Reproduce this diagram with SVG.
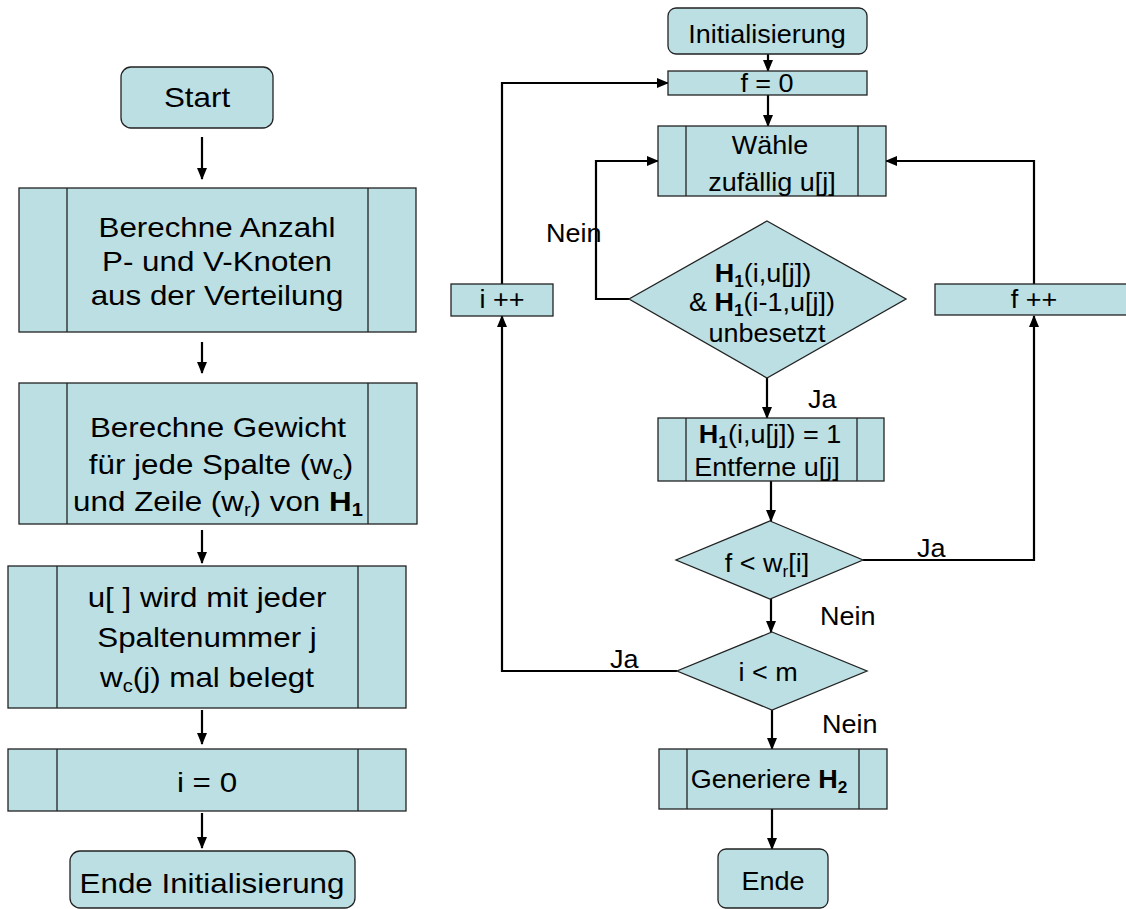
<svg xmlns="http://www.w3.org/2000/svg" width="1126" height="909" viewBox="0 0 1126 909">
<style>
.n{fill:#BBDFE3;stroke:#222;stroke-width:1.3}
.c{fill:none;stroke:#000;stroke-width:2.2}
.ca{fill:none;stroke:#000;stroke-width:2.2;marker-end:url(#ah)}
text{font-family:"Liberation Sans",Arial,sans-serif;fill:#000}
.L{font-size:28px;text-anchor:middle}
.R{font-size:25px;text-anchor:middle}
.Rl{font-size:25px}
.b{font-weight:bold}
</style>
<defs>
<marker id="ah" markerUnits="userSpaceOnUse" markerWidth="12" markerHeight="12" viewBox="0 0 12 12" refX="11" refY="6" orient="auto">
<path d="M0,1 L12,6 L0,11 Z" fill="#000"/>
</marker>
</defs>

<g id="connectors">
<path class="ca" d="M202,137 V179"/>
<path class="ca" d="M202,342 V373"/>
<path class="ca" d="M202,530 V563"/>
<path class="ca" d="M202,710 V744"/>
<path class="ca" d="M202,813 V848"/>
<path class="ca" d="M768,54 V71"/>
<path class="ca" d="M768,95 V126"/>
<path class="ca" d="M502,284 V83 H668"/>
<path class="ca" d="M629,299 H596 V161 H658"/>
<path class="ca" d="M1034,284 V161 H886"/>
<path class="ca" d="M767,378 V418"/>
<path class="ca" d="M771,481 V521"/>
<path class="ca" d="M863,560 H1034 V316"/>
<path class="ca" d="M771,599 V632"/>
<path class="ca" d="M677,671 H502 V316"/>
<path class="ca" d="M772,710 V749"/>
<path class="ca" d="M772,809 V849"/>
</g>

<g id="start">
<rect class="n" x="121" y="67" width="152" height="61" rx="10"/>
<text class="L" transform="translate(197,107) scale(1.12,1)">Start</text>
</g>

<g id="berechne-anzahl">
<rect class="n" x="19" y="188" width="397" height="144"/>
<line class="n" x1="67" y1="188" x2="67" y2="332"/>
<line class="n" x1="368" y1="188" x2="368" y2="332"/>
<text class="L" transform="translate(217,237) scale(1.12,1)">Berechne Anzahl</text>
<text class="L" transform="translate(217,271) scale(1.12,1)">P- und V-Knoten</text>
<text class="L" transform="translate(217,305) scale(1.12,1)">aus der Verteilung</text>
</g>

<g id="berechne-gewicht">
<rect class="n" x="19" y="383" width="398" height="141"/>
<line class="n" x1="67" y1="383" x2="67" y2="524"/>
<line class="n" x1="368" y1="383" x2="368" y2="524"/>
<text class="L" transform="translate(218,437) scale(1.12,1)">Berechne Gewicht</text>
<text class="L" transform="translate(221,474) scale(1.12,1)">für jede Spalte (w<tspan font-size="18" dy="5">c</tspan><tspan dy="-5">)</tspan></text>
<text class="L" transform="translate(218,511) scale(1.12,1)">und Zeile (w<tspan font-size="18" dy="5">r</tspan><tspan dy="-5">) von </tspan><tspan class="b">H</tspan><tspan class="b" font-size="18" dy="5">1</tspan></text>
</g>

<g id="u-belegen">
<rect class="n" x="8" y="566" width="398" height="142"/>
<line class="n" x1="57" y1="566" x2="57" y2="708"/>
<line class="n" x1="358" y1="566" x2="358" y2="708"/>
<text class="L" transform="translate(207,607) scale(1.12,1)">u[ ] wird mit jeder</text>
<text class="L" transform="translate(207,647) scale(1.12,1)">Spaltenummer j</text>
<text class="L" transform="translate(207,687) scale(1.12,1)">w<tspan font-size="18" dy="5">c</tspan><tspan dy="-5">(j) mal belegt</tspan></text>
</g>

<g id="i-null">
<rect class="n" x="8" y="749" width="398" height="62"/>
<line class="n" x1="57" y1="749" x2="57" y2="811"/>
<line class="n" x1="358" y1="749" x2="358" y2="811"/>
<text class="L" transform="translate(207,792) scale(1.12,1)">i = 0</text>
</g>

<g id="ende-initialisierung">
<rect class="n" x="70" y="851" width="285" height="57" rx="10"/>
<text class="L" transform="translate(212,893) scale(1.12,1)">Ende Initialisierung</text>
</g>

<g id="initialisierung">
<rect class="n" x="668" y="8" width="199" height="46" rx="8"/>
<text class="R" transform="translate(767,43) scale(1.08,1)">Initialisierung</text>
</g>

<g id="f-null">
<rect class="n" x="668" y="71" width="199" height="24"/>
<text class="R" transform="translate(767,92) scale(1.08,1)">f = 0</text>
</g>

<g id="waehle">
<rect class="n" x="658" y="126" width="228" height="70"/>
<line class="n" x1="686" y1="126" x2="686" y2="196"/>
<line class="n" x1="858" y1="126" x2="858" y2="196"/>
<text class="R" transform="translate(770,154) scale(1.08,1)">Wähle</text>
<text class="R" transform="translate(772,191) scale(1.08,1)">zufällig u[j]</text>
</g>

<g id="i-plus">
<rect class="n" x="451" y="284" width="102" height="32"/>
<text class="R" transform="translate(502,308) scale(1.08,1)">i ++</text>
</g>

<g id="f-plus">
<rect class="n" x="935" y="284" width="195" height="31"/>
<text class="R" transform="translate(1034,308) scale(1.08,1)">f ++</text>
</g>

<g id="pruefe-unbesetzt">
<polygon class="n" points="767,221 906,299 767,378 629,299"/>
<text class="R" transform="translate(763,282) scale(1.08,1)"><tspan class="b">H</tspan><tspan class="b" font-size="16" dy="5">1</tspan><tspan dy="-5">(i,u[j])</tspan></text>
<text class="R" transform="translate(762,311) scale(1.08,1)">&amp; <tspan class="b">H</tspan><tspan class="b" font-size="16" dy="5">1</tspan><tspan dy="-5">(i-1,u[j])</tspan></text>
<text class="R" transform="translate(767,342) scale(1.08,1)">unbesetzt</text>
</g>

<g id="setzen">
<rect class="n" x="658" y="418" width="226" height="63"/>
<line class="n" x1="686" y1="418" x2="686" y2="481"/>
<line class="n" x1="857" y1="418" x2="857" y2="481"/>
<text class="R" transform="translate(770,443) scale(1.08,1)"><tspan class="b">H</tspan><tspan class="b" font-size="16" dy="5">1</tspan><tspan dy="-5">(i,u[j]) = 1</tspan></text>
<text class="R" transform="translate(767,476) scale(1.08,1)">Entferne u[j]</text>
</g>

<g id="f-kleiner-wr">
<polygon class="n" points="770,521 863,560 770,599 676,560"/>
<text class="R" transform="translate(767,572) scale(1.08,1)">f &lt; w<tspan font-size="16" dy="5">r</tspan><tspan dy="-5">[i]</tspan></text>
</g>

<g id="i-kleiner-m">
<polygon class="n" points="772,632 867,671 772,710 677,671"/>
<text class="R" transform="translate(768,681) scale(1.08,1)">i &lt; m</text>
</g>

<g id="generiere">
<rect class="n" x="659" y="749" width="228" height="60"/>
<line class="n" x1="687" y1="749" x2="687" y2="809"/>
<line class="n" x1="859" y1="749" x2="859" y2="809"/>
<text class="R" transform="translate(769,788) scale(1.08,1)">Generiere <tspan class="b">H</tspan><tspan class="b" font-size="16" dy="5">2</tspan></text>
</g>

<g id="ende">
<rect class="n" x="718" y="849" width="110" height="59" rx="8"/>
<text class="R" transform="translate(773,890) scale(1.08,1)">Ende</text>
</g>

<g id="labels">
<text class="Rl" transform="translate(546,242) scale(1.08,1)">Nein</text>
<text class="Rl" transform="translate(808,408) scale(1.08,1)">Ja</text>
<text class="Rl" transform="translate(917,557) scale(1.08,1)">Ja</text>
<text class="Rl" transform="translate(820,625) scale(1.08,1)">Nein</text>
<text class="Rl" transform="translate(610,668) scale(1.08,1)">Ja</text>
<text class="Rl" transform="translate(822,733) scale(1.08,1)">Nein</text>
</g>
</svg>
